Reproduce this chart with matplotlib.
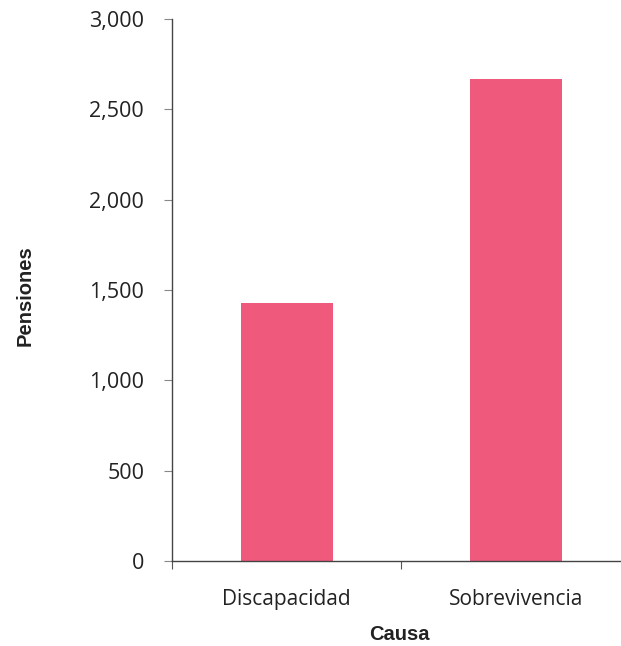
import matplotlib
matplotlib.use("Agg")
import matplotlib.pyplot as plt
from matplotlib.ticker import FuncFormatter

# --- Data ----------------------------------------------------------------
causas = ["Discapacidad", "Sobrevivencia"]
pensiones = [1426, 2666]

bar_color = "#EF5A7C"
text_color = "#222222"
tick_font = "Open Sans"
label_font = "Liberation Sans"

# --- Plot ----------------------------------------------------------------
fig = plt.figure(figsize=(6.21, 6.46), dpi=100)
ax = fig.add_axes([0.277, 0.1316, 0.739, 0.839])

x = list(range(len(causas)))
ax.bar(x, pensiones, width=0.4, color=bar_color, zorder=2)

ax.set_xlim(-0.5, len(causas) - 0.5)
ax.set_ylim(0, 3000)
ax.set_yticks(range(0, 3001, 500))
ax.yaxis.set_major_formatter(FuncFormatter(lambda v, p: f"{int(v):,}"))

# category boundaries as major ticks, labels on minor ticks at bar centres
ax.set_xticks([i - 0.5 for i in range(len(causas) + 1)])
ax.set_xticklabels([])
ax.set_xticks(x, minor=True)
ax.set_xticklabels(causas, minor=True, fontsize=15, color=text_color,
                   family=tick_font)
ax.tick_params(axis="x", which="minor", length=0, pad=20)
ax.tick_params(axis="x", which="major", length=6, color="#555555", direction="out")
ax.tick_params(axis="y", length=6, color="#888888", pad=14, labelsize=15.5,
               labelcolor=text_color)
for lbl in ax.get_yticklabels():
    lbl.set_family(tick_font)

for s in ["top", "right"]:
    ax.spines[s].set_visible(False)
for s in ["left", "bottom"]:
    ax.spines[s].set_color("#444444")
    ax.spines[s].set_linewidth(1.0)

ax.set_xlabel("Causa", fontsize=14.5, fontweight="bold", family=label_font,
              color=text_color)
ax.set_ylabel("Pensiones", fontsize=14.5, fontweight="bold", family=label_font,
              color=text_color)
ax.xaxis.set_label_coords(0.495, -0.118)
ax.yaxis.set_label_coords(-0.30, 0.49)

fig.savefig("out.png", dpi=100)
